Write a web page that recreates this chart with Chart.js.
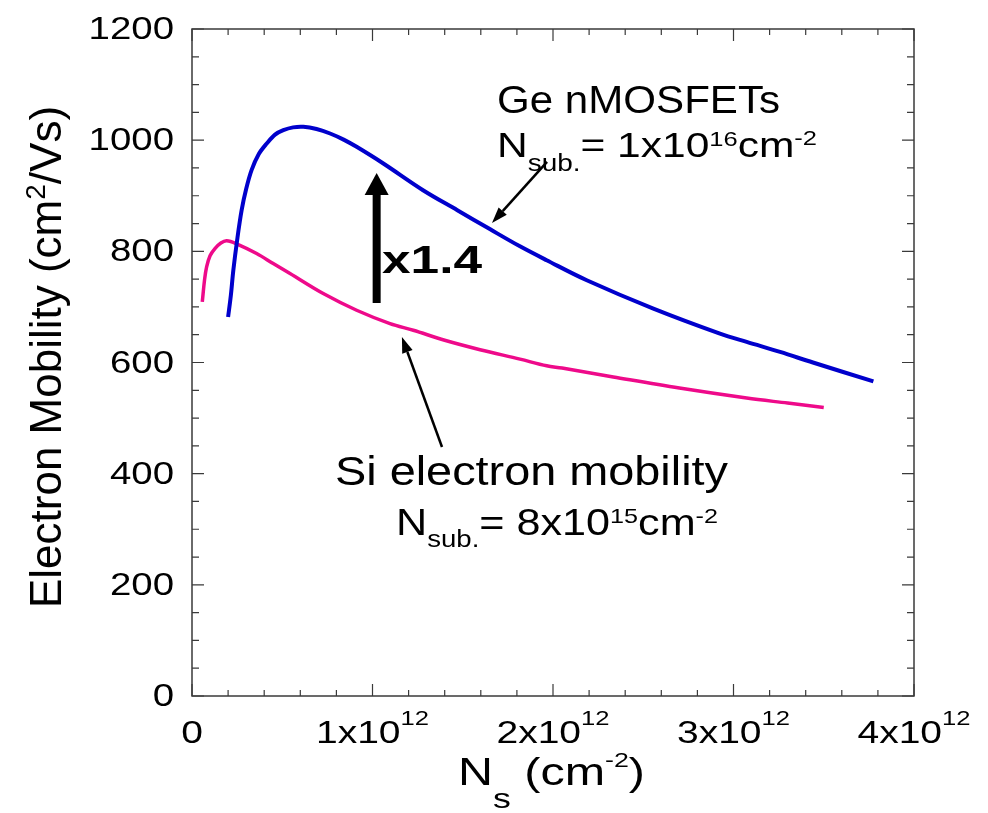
<!DOCTYPE html>
<html>
<head>
<meta charset="utf-8">
<script src="https://cdn.jsdelivr.net/npm/chart.js@4/dist/chart.umd.min.js"></script>
<style>
  html, body { margin: 0; padding: 0; background: #fff; overflow: hidden; }
  canvas { display: block; }
</style>
</head>
<body>
<canvas id="chart" width="988" height="813"></canvas>
<script>
// Dane (Ns w cm^-2, ruchliwosc w cm^2/Vs)
const geNs = [0.200e12, 0.215e12, 0.229e12, 0.250e12, 0.275e12, 0.300e12, 0.330e12, 0.370e12,
              0.414e12, 0.460e12, 0.506e12, 0.560e12, 0.617e12, 0.690e12, 0.765e12, 0.840e12,
              0.912e12, 1.060e12, 1.280e12, 1.470e12, 1.650e12, 1.817e12, 1.965e12, 2.187e12,
              2.556e12, 2.925e12, 3.073e12, 3.258e12, 3.440e12, 3.775e12];
const geMobility = [682, 720, 766, 820, 874, 912, 946, 975,
                    994, 1010, 1018, 1023, 1024, 1020, 1012, 1001,
                    988, 958, 910, 874, 840, 809, 784, 748,
                    697, 652, 637, 619, 600, 566];

const siNs = [0.057e12, 0.070e12, 0.081e12, 0.100e12, 0.127e12, 0.160e12, 0.192e12, 0.250e12,
              0.358e12, 0.450e12, 0.543e12, 0.727e12, 0.912e12, 1.097e12, 1.226e12, 1.400e12,
              1.596e12, 1.817e12, 1.965e12, 2.050e12, 2.334e12, 2.700e12, 3.073e12, 3.300e12, 3.500e12];
const siMobility = [709, 750, 772, 792, 805, 815, 819, 813,
                    796, 778, 760, 724, 694, 670, 658, 640,
                    623, 606, 594, 590, 574, 554, 536, 527, 519];

const xTickValues = [0, 1e12, 2e12, 3e12, 4e12];
const xTickMantissa = ['0', '1', '2', '3', '4'];
const yTickValues = [0, 200, 400, 600, 800, 1000, 1200];

const FONT = '"Liberation Sans", Arial, Helvetica, sans-serif';

// Tekst z indeksami gornymi/dolnymi: [tekst, rozmiar, przesuniecie y, pogrubienie]
function fontOf(p) {
    return (p[3] ? 'bold ' : '') + p[1] + 'px ' + FONT;
}

function richWidth(ctx, parts) {
    let w = 0;
    for (const p of parts) {
        ctx.font = fontOf(p);
        w += ctx.measureText(p[0]).width;
    }
    return w;
}

function drawRich(ctx, parts, x, y, o = {}) {
    const w = richWidth(ctx, parts);
    const sx = o.width ? o.width / w : (o.sx || 1);
    let start = 0;
    if (o.align === 'center') start = -w / 2;
    else if (o.align === 'right') start = -w;
    ctx.save();
    ctx.translate(x, y);
    if (o.rotate) ctx.rotate(o.rotate);
    ctx.scale(sx, 1);
    ctx.textAlign = 'left';
    ctx.textBaseline = 'alphabetic';
    ctx.fillStyle = '#000';
    let cx = start;
    for (const p of parts) {
        ctx.font = fontOf(p);
        ctx.fillText(p[0], cx, p[2] || 0);
        cx += ctx.measureText(p[0]).width;
    }
    ctx.restore();
}

function arrow(ctx, x1, y1, x2, y2, lw, headLen, headW) {
    const a = Math.atan2(y2 - y1, x2 - x1);
    const bx = x2 - headLen * Math.cos(a);
    const by = y2 - headLen * Math.sin(a);
    ctx.save();
    ctx.strokeStyle = '#000';
    ctx.fillStyle = '#000';
    ctx.lineWidth = lw;
    ctx.beginPath();
    ctx.moveTo(x1, y1);
    ctx.lineTo(bx, by);
    ctx.stroke();
    ctx.beginPath();
    ctx.moveTo(x2, y2);
    ctx.lineTo(bx + headW / 2 * Math.sin(a), by - headW / 2 * Math.cos(a));
    ctx.lineTo(bx - headW / 2 * Math.sin(a), by + headW / 2 * Math.cos(a));
    ctx.closePath();
    ctx.fill();
    ctx.restore();
}

const frameAndText = {
    id: 'frameAndText',
    afterDatasetsDraw(chart) {
        const ctx = chart.ctx;
        const area = chart.chartArea;
        const xs = chart.scales.x;
        const ys = chart.scales.y;

        // Ramka
        ctx.save();
        ctx.strokeStyle = '#3a3a3a';
        ctx.lineWidth = 1.5;
        ctx.strokeRect(area.left, area.top, area.right - area.left, area.bottom - area.top);

        // Znaczniki do wewnatrz, na wszystkich bokach
        ctx.lineWidth = 1.2;
        ctx.beginPath();
        for (let i = 0; i <= 20; i++) {
            const px = xs.getPixelForValue(i * 2e11);
            const len = i % 5 === 0 ? 12 : 6;
            ctx.moveTo(px, area.bottom); ctx.lineTo(px, area.bottom - len);
            ctx.moveTo(px, area.top); ctx.lineTo(px, area.top + len);
        }
        for (let i = 0; i <= 24; i++) {
            const py = ys.getPixelForValue(i * 50);
            const len = i % 4 === 0 ? 12 : 7;
            ctx.moveTo(area.left, py); ctx.lineTo(area.left + len, py);
            ctx.moveTo(area.right, py); ctx.lineTo(area.right - len, py);
        }
        ctx.stroke();
        ctx.restore();

        // Etykiety osi Y
        yTickValues.forEach(v => {
            drawRich(ctx, [[String(v), 32]], area.left - 18, ys.getPixelForValue(v) + 10, { align: 'right', sx: 1.2 });
        });

        // Etykiety osi X
        xTickValues.forEach((v, i) => {
            const parts = v === 0 ? [['0', 32]] : [[xTickMantissa[i] + 'x10', 32], ['12', 21, -18]];
            drawRich(ctx, parts, xs.getPixelForValue(v), area.bottom + 47, { align: 'center', sx: 1.22 });
        });

        // Tytuly osi
        drawRich(ctx, [['N', 38], ['s', 28, 23], [' (cm', 38], ['-2', 21, -18], [')', 38]],
            458, 785, { width: 187 });
        drawRich(ctx, [['Electron Mobility (cm', 44], ['2', 28, -16], ['/Vs)', 44]],
            61, 357, { align: 'center', rotate: -Math.PI / 2 });

        // Opisy krzywych
        drawRich(ctx, [['Ge nMOSFETs', 39]], 497, 113, { width: 283 });
        drawRich(ctx, [['N', 35], ['sub.', 23, 14], ['= 1x10', 35], ['16', 21, -11], ['cm', 35], ['-2', 21, -12]],
            497, 157, { width: 320 });
        drawRich(ctx, [['Si electron mobility', 41]], 335, 485, { width: 393 });
        drawRich(ctx, [['N', 36], ['sub.', 23, 12], ['= 8x10', 36], ['15', 21, -12], ['cm', 36], ['-2', 21, -12]],
            396, 535, { width: 322 });
        drawRich(ctx, [['x1.4', 39, 0, true]], 382, 273, { width: 100 });

        // Strzalki
        arrow(ctx, xs.getPixelForValue(1.967e12), ys.getPixelForValue(961),
            xs.getPixelForValue(1.662e12), ys.getPixelForValue(851), 2.5, 16, 11);
        arrow(ctx, xs.getPixelForValue(1.385e12), ys.getPixelForValue(448),
            xs.getPixelForValue(1.163e12), ys.getPixelForValue(646), 2.5, 16, 11);
        arrow(ctx, xs.getPixelForValue(1.023e12), ys.getPixelForValue(707),
            xs.getPixelForValue(1.023e12), ys.getPixelForValue(941), 8, 22, 24);
    }
};

const ctx = document.getElementById('chart').getContext('2d');
new Chart(ctx, {
    type: 'line',
    data: {
        datasets: [
            {
                label: 'Ge nMOSFETs',
                data: geNs.map((x, i) => ({ x: x, y: geMobility[i] })),
                borderColor: '#0000cc',
                borderWidth: 4,
                pointRadius: 0,
                tension: 0.35,
                fill: false
            },
            {
                label: 'Si electron mobility',
                data: siNs.map((x, i) => ({ x: x, y: siMobility[i] })),
                borderColor: '#ee0a8a',
                borderWidth: 3.5,
                pointRadius: 0,
                tension: 0.35,
                fill: false
            }
        ]
    },
    options: {
        responsive: false,
        animation: false,
        layout: { padding: { left: 192, right: 74, top: 29, bottom: 117 } },
        plugins: { legend: { display: false }, tooltip: { enabled: false } },
        scales: {
            x: { type: 'linear', min: 0, max: 4e12, display: false },
            y: { type: 'linear', min: 0, max: 1200, display: false }
        }
    },
    plugins: [frameAndText]
});
</script>
</body>
</html>
